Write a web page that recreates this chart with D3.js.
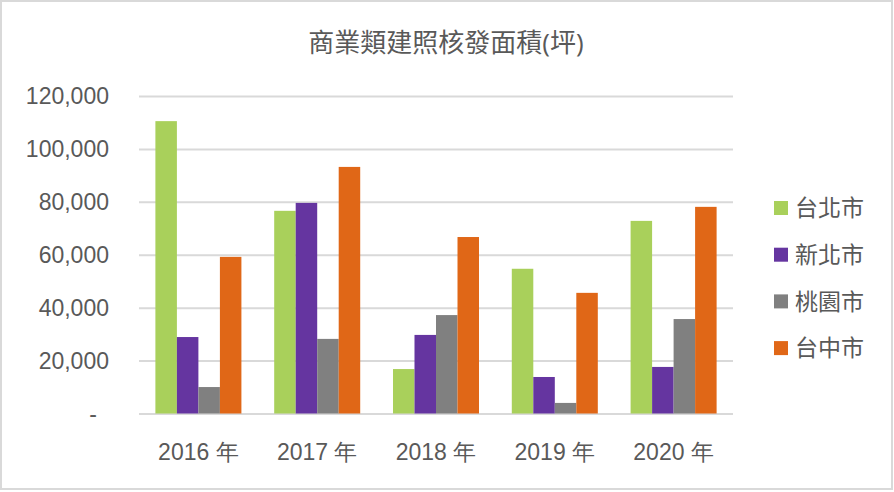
<!DOCTYPE html>
<html lang="zh-Hant">
<head>
    <meta charset="UTF-8">
    <title>商業類建照核發面積(坪)</title>
    <script src="https://d3js.org/d3.v7.min.js"></script>
    <style>
        body, html {
            margin: 0;
            background: white;
        }
        svg {
            display: block;
            font-family: "Open Sans", "Noto Sans CJK TC", sans-serif;
        }
        .tick text, .legend text, .title {
            fill: #595959;
        }
    </style>
</head>
<body>
    <div id="chart"></div>
    <script>
        var years = ["2016 年", "2017 年", "2018 年", "2019 年", "2020 年"];
        var cities = ["台北市", "新北市", "桃園市", "台中市"];
        var colors = ["#a9d05b", "#6535a0", "#808080", "#e06717"];
        var taipei = [110500, 76600, 16800, 54700, 72800];
        var newTaipei = [28900, 79600, 29700, 13800, 17600];
        var taoyuan = [10000, 28200, 37200, 4000, 35700];
        var taichung = [59200, 93200, 66700, 45600, 78100];
        var yTicks = [0, 20000, 40000, 60000, 80000, 100000, 120000];

        var series = [taipei, newTaipei, taoyuan, taichung];
        var width = 894, height = 492;

        var svg = d3.select("#chart").append("svg")
            .attr("width", width)
            .attr("height", height);

        // frame
        svg.append("rect")
            .attr("x", 1).attr("y", 1)
            .attr("width", width - 3).attr("height", height - 4)
            .attr("fill", "white")
            .attr("stroke", "#d9d9d9")
            .attr("stroke-width", 2);

        svg.append("text")
            .attr("class", "title")
            .attr("x", 446)
            .attr("y", 52)
            .attr("text-anchor", "middle")
            .style("font-size", "26px")
            .text("商業類建照核發面積(坪)");

        var x0 = d3.scaleBand().domain(years).range([139, 733]).paddingInner(0.276).paddingOuter(0.138);
        var x1 = d3.scaleBand().domain(cities).range([0, x0.bandwidth()]);
        var y = d3.scaleLinear().domain([0, 120000]).range([413.5, 96]);

        var yAxis = svg.append("g")
            .attr("transform", "translate(139,0)")
            .call(d3.axisLeft(y).tickValues(yTicks).tickSize(-594).tickPadding(30)
                .tickFormat(d => d === 0 ? "-" : d3.format(",")(d)));
        yAxis.select(".domain").remove();
        yAxis.selectAll("line").attr("stroke", "#d9d9d9").attr("stroke-width", 2);
        yAxis.selectAll("text")
            .style("font-size", "23px")
            .attr("dy", "0.34em")
            .attr("dx", d => d === 0 ? -12 : 0);

        var xAxis = svg.append("g")
            .attr("transform", "translate(0,413.5)")
            .call(d3.axisBottom(x0).tickSize(0).tickPadding(30));
        xAxis.select(".domain").remove();
        xAxis.selectAll("text").style("font-size", "23px");

        var groups = svg.append("g").selectAll("g")
            .data(years)
            .join("g")
            .attr("transform", d => "translate(" + x0(d) + ",0)");

        groups.selectAll("rect")
            .data((d, i) => cities.map((c, j) => ({ city: c, value: series[j][i], color: colors[j] })))
            .join("rect")
            .attr("x", d => x1(d.city))
            .attr("y", d => y(d.value))
            .attr("width", x1.bandwidth())
            .attr("height", d => y(0) - y(d.value))
            .attr("fill", d => d.color);

        var legend = svg.append("g").attr("class", "legend")
            .selectAll("g")
            .data(cities)
            .join("g")
            .attr("transform", (d, i) => "translate(774," + (208 + i * 46.7) + ")");
        legend.append("rect")
            .attr("x", 0).attr("y", -7)
            .attr("width", 14).attr("height", 14)
            .attr("fill", (d, i) => colors[i]);
        legend.append("text")
            .attr("x", 21)
            .attr("dy", "0.36em")
            .style("font-size", "23px")
            .text(d => d);
    </script>
</body>
</html>
